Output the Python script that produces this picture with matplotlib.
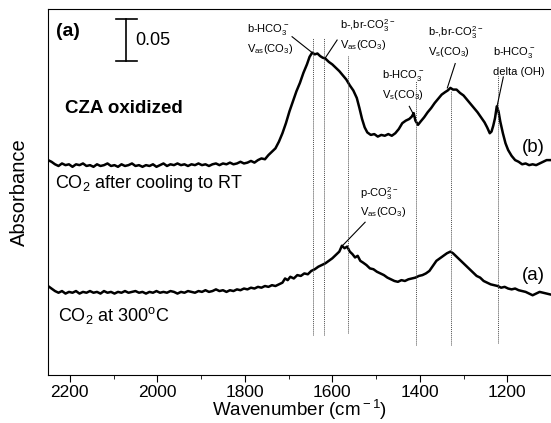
# DRIFTS spectra of CZA oxidized: CO2 at 300 C (a) and after cooling to RT (b)

import matplotlib
matplotlib.use("Agg")
import matplotlib.pyplot as plt

plt.rcParams["font.family"] = ["Liberation Sans", "DejaVu Sans"]
plt.rcParams["mathtext.fontset"] = "custom"
plt.rcParams["mathtext.rm"] = "Liberation Sans"
plt.rcParams["mathtext.it"] = "Liberation Sans:italic"
plt.rcParams["mathtext.bf"] = "Liberation Sans:bold"

# spectrum (b): CO2 after cooling to RT
wn_b = [2250, 2242, 2234, 2226, 2218, 2210, 2202, 2194, 2186, 2178, 2170, 2162,
        2154, 2146, 2138, 2130, 2122, 2114, 2106, 2098, 2090, 2082, 2074, 2066,
        2058, 2050, 2042, 2034, 2026, 2018, 2010, 2002, 1994, 1986, 1978, 1970,
        1962, 1954, 1946, 1938, 1930, 1922, 1914, 1906, 1898, 1890, 1882, 1874,
        1866, 1858, 1850, 1842, 1834, 1826, 1818, 1810, 1802, 1794, 1786, 1778,
        1770, 1762, 1754, 1746, 1738, 1730, 1722, 1714, 1706, 1698, 1690, 1682,
        1674, 1666, 1658, 1652, 1646, 1640, 1634, 1628, 1622, 1616, 1608, 1600,
        1592, 1584, 1576, 1568, 1560, 1552, 1544, 1538, 1532, 1526, 1520, 1512,
        1504, 1496, 1488, 1480, 1472, 1464, 1456, 1448, 1440, 1432, 1424, 1418,
        1414, 1410, 1404, 1398, 1390, 1382, 1374, 1366, 1358, 1350, 1342, 1336,
        1330, 1324, 1316, 1308, 1300, 1292, 1284, 1276, 1268, 1260, 1252, 1246,
        1240, 1236, 1232, 1228, 1224, 1220, 1216, 1210, 1204, 1198, 1190, 1182,
        1174, 1166, 1158, 1150, 1142, 1134, 1126, 1118, 1110, 1102]
abs_b = [0.256, 0.254, 0.251, 0.249, 0.252, 0.250, 0.251, 0.248, 0.251, 0.250, 0.252, 0.249,
         0.250, 0.248, 0.251, 0.249, 0.250, 0.252, 0.249, 0.250, 0.248, 0.251, 0.249, 0.250,
         0.252, 0.249, 0.250, 0.248, 0.250, 0.249, 0.251, 0.248, 0.250, 0.252, 0.249, 0.251,
         0.250, 0.252, 0.250, 0.251, 0.249, 0.251, 0.250, 0.252, 0.250, 0.251, 0.249, 0.251,
         0.252, 0.250, 0.252, 0.251, 0.253, 0.251, 0.252, 0.254, 0.252, 0.253, 0.255, 0.253,
         0.256, 0.258, 0.257, 0.262, 0.266, 0.270, 0.278, 0.288, 0.300, 0.314, 0.326, 0.338,
         0.348, 0.360, 0.370, 0.379, 0.384, 0.382, 0.383, 0.380, 0.378, 0.377, 0.373, 0.370,
         0.366, 0.362, 0.357, 0.352, 0.345, 0.339, 0.330, 0.318, 0.305, 0.295, 0.289, 0.286,
         0.287, 0.284, 0.286, 0.285, 0.287, 0.285, 0.288, 0.293, 0.300, 0.303, 0.305, 0.308,
         0.312, 0.303, 0.298, 0.302, 0.307, 0.313, 0.318, 0.324, 0.329, 0.334, 0.337, 0.339,
         0.342, 0.340, 0.340, 0.336, 0.333, 0.328, 0.323, 0.318, 0.313, 0.307, 0.301, 0.295,
         0.288, 0.290, 0.297, 0.306, 0.320, 0.314, 0.302, 0.288, 0.276, 0.268, 0.261, 0.256,
         0.254, 0.251, 0.252, 0.250, 0.251, 0.250, 0.252, 0.254, 0.256, 0.256]

# spectrum (a): CO2 at 300 C
wn_a = [2250, 2242, 2234, 2226, 2218, 2210, 2202, 2194, 2186, 2178, 2170, 2162,
        2154, 2146, 2138, 2130, 2122, 2114, 2106, 2098, 2090, 2082, 2074, 2066,
        2058, 2050, 2042, 2034, 2026, 2018, 2010, 2002, 1994, 1986, 1978, 1970,
        1962, 1954, 1946, 1938, 1930, 1922, 1914, 1906, 1898, 1890, 1882, 1874,
        1866, 1858, 1850, 1842, 1834, 1826, 1818, 1810, 1802, 1794, 1786, 1778,
        1770, 1762, 1754, 1746, 1738, 1730, 1722, 1714, 1708, 1702, 1696, 1688,
        1680, 1672, 1664, 1656, 1648, 1640, 1632, 1624, 1616, 1608, 1600, 1592,
        1584, 1578, 1572, 1566, 1560, 1554, 1548, 1542, 1536, 1530, 1522, 1514,
        1506, 1498, 1490, 1482, 1474, 1466, 1458, 1450, 1442, 1434, 1426, 1418,
        1410, 1402, 1394, 1386, 1378, 1370, 1362, 1354, 1346, 1338, 1330, 1324,
        1318, 1310, 1302, 1294, 1286, 1278, 1270, 1262, 1254, 1246, 1238, 1230,
        1222, 1214, 1206, 1198, 1190, 1182, 1174, 1166, 1158, 1150, 1142, 1134,
        1126, 1118, 1110, 1102]
abs_a = [0.106, 0.103, 0.100, 0.098, 0.100, 0.097, 0.099, 0.098, 0.100, 0.097, 0.099, 0.098,
         0.100, 0.098, 0.099, 0.097, 0.100, 0.098, 0.099, 0.097, 0.099, 0.098, 0.100, 0.098,
         0.099, 0.100, 0.098, 0.099, 0.097, 0.099, 0.098, 0.100, 0.098, 0.099, 0.098, 0.100,
         0.099, 0.097, 0.099, 0.098, 0.100, 0.099, 0.098, 0.100, 0.099, 0.101, 0.099, 0.100,
         0.102, 0.100, 0.101, 0.099, 0.101, 0.100, 0.102, 0.101, 0.103, 0.102, 0.104, 0.103,
         0.105, 0.104, 0.106, 0.105, 0.107, 0.106, 0.108, 0.110, 0.115, 0.113, 0.117, 0.115,
         0.119, 0.118, 0.121, 0.120, 0.124, 0.126, 0.129, 0.131, 0.133, 0.136, 0.139, 0.143,
         0.147, 0.154, 0.151, 0.153, 0.147, 0.144, 0.140, 0.142, 0.136, 0.134, 0.131, 0.127,
         0.126, 0.123, 0.121, 0.119, 0.116, 0.114, 0.112, 0.111, 0.113, 0.112, 0.114, 0.115,
         0.116, 0.118, 0.119, 0.121, 0.124, 0.130, 0.136, 0.139, 0.142, 0.145, 0.147, 0.145,
         0.142, 0.138, 0.134, 0.130, 0.126, 0.122, 0.118, 0.116, 0.112, 0.110, 0.108, 0.107,
         0.106, 0.104, 0.105, 0.103, 0.102, 0.103, 0.101, 0.100, 0.099, 0.097, 0.095, 0.097,
         0.099, 0.098, 0.097, 0.096]

# band positions marked with dotted lines
bands = [1645, 1618, 1565, 1408, 1328, 1222]
band_top = [0.402, 0.402, 0.381, 0.350, 0.338, 0.357]
band_bottom = [0.048, 0.048, 0.050, 0.036, 0.036, 0.038]

# band assignments: (line 1, line 2, text x, text y, pointer from, pointer to)
labels = [
    (r"b-HCO$_3^{\rm -}$", r"V$_{\rm as}$(CO$_3$)", 1795, 0.411, (1692, 0.403), (1646, 0.384)),
    (r"b-,br-CO$_3^{\rm 2-}$", r"V$_{\rm as}$(CO$_3$)", 1582, 0.4165, (1589, 0.399), (1617, 0.377)),
    (r"b-HCO$_3^{\rm -}$", r"V$_{\rm s}$(CO$_3$)", 1486, 0.357, (1424, 0.320), (1411, 0.307)),
    (r"b-,br-CO$_3^{\rm 2-}$", r"V$_{\rm s}$(CO$_3$)", 1381, 0.408, (1319, 0.371), (1337, 0.342)),
    (r"b-HCO$_3^{\rm -}$", "delta (OH)", 1232, 0.384, (1209, 0.355), (1223, 0.321)),
    (r"p-CO$_3^{\rm 2-}$", r"V$_{\rm as}$(CO$_3$)", 1536, 0.2166, (1525, 0.182), (1575, 0.155)),
]

fig = plt.figure(figsize=(5.51, 4.23), dpi=100)
ax = fig.add_axes([48 / 551, 48 / 423, 503 / 551, 366 / 423])

ax.plot(wn_b, abs_b, color="black", lw=1.8)
ax.plot(wn_a, abs_a, color="black", lw=1.8)
ax.vlines(bands, band_bottom, band_top, colors="0.3", linestyles=(0, (1, 1)), lw=0.7)

for top, bottom, x, y, p0, p1 in labels:
    ax.text(x, y, top, fontsize=8, ha="left", va="center")
    ax.text(x, y - 0.023, bottom, fontsize=8, ha="left", va="center")
    ax.plot([p0[0], p1[0]], [p0[1], p1[1]], color="black", lw=0.8)

# scale bar
ax.plot([2072, 2072], [0.3737, 0.4237], color="black", lw=1.2)
ax.plot([2095, 2047], [0.3737, 0.3737], color="black", lw=1.2)
ax.plot([2095, 2047], [0.4237, 0.4237], color="black", lw=1.2)
ax.text(2051, 0.399, "0.05", fontsize=13, va="center")

ax.text(2232, 0.409, "(a)", fontsize=14, fontweight="bold", va="center")
ax.text(2211, 0.318, "CZA oxidized", fontsize=13.5, fontweight="bold", va="center")
ax.text(2234, 0.228, r"CO$_2$ after cooling to RT", fontsize=13, va="center")
ax.text(2227, 0.071, r"CO$_2$ at 300$^{\rm o}$C", fontsize=13, va="center")
ax.text(1166, 0.271, "(b)", fontsize=13.5, va="center")
ax.text(1166, 0.119, "(a)", fontsize=13.5, va="center")

ax.set_xlim(2250, 1100)
ax.set_ylim(0, 0.436)
ax.set_xticks([2200, 2000, 1800, 1600, 1400, 1200])
ax.set_xticks([2100, 1900, 1700, 1500, 1300], minor=True)
ax.set_yticks([])
ax.tick_params(axis="x", which="major", direction="out", length=5, labelsize=12.5, pad=2)
ax.tick_params(axis="x", which="minor", direction="out", length=3)
ax.spines["right"].set_visible(False)
ax.set_xlabel("Wavenumber (cm$^{\\rm -1}$)", fontsize=13.5, labelpad=-1)
ax.set_ylabel("Absorbance", fontsize=14.5, labelpad=14)

fig.savefig("out.png", dpi=100)
